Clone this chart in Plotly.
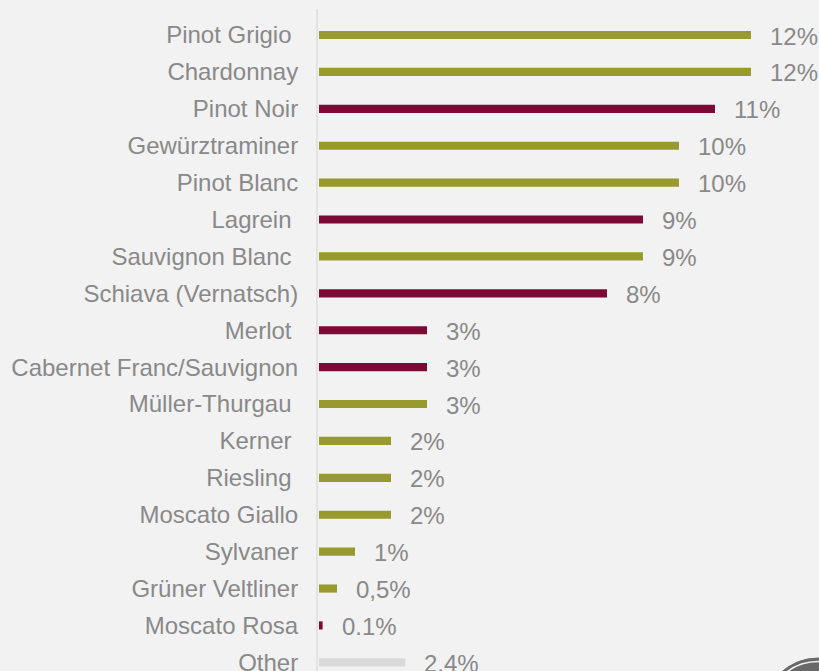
import plotly.graph_objects as go

NBSP = '\u00a0'

# grape varieties, top to bottom (trailing space as in the source labels)
varieties = ['Pinot Grigio' + NBSP, 'Chardonnay', 'Pinot Noir', 'Gewürztraminer',
             'Pinot Blanc', 'Lagrein' + NBSP, 'Sauvignon Blanc' + NBSP,
             'Schiava (Vernatsch)', 'Merlot' + NBSP, 'Cabernet Franc/Sauvignon',
             'Müller-Thurgau' + NBSP, 'Kerner' + NBSP, 'Riesling' + NBSP,
             'Moscato Giallo', 'Sylvaner', 'Grüner Veltliner', 'Moscato Rosa', 'Other']
shares = [12, 12, 11, 10, 10, 9, 9, 8, 3, 3, 3, 2, 2, 2, 1, 0.5, 0.1, 2.4]
share_labels = ['12%', '12%', '11%', '10%', '10%', '9%', '9%', '8%', '3%', '3%', '3%',
                '2%', '2%', '2%', '1%', '0,5%', '0.1%', '2.4%']
wine_type = ['white', 'white', 'red', 'white', 'white', 'red', 'white', 'red', 'red',
             'red', 'white', 'white', 'white', 'white', 'white', 'white', 'red', 'other']

WHITE_COLOUR = '#989a2e'
RED_COLOUR = '#7b0a36'
OTHER_COLOUR = '#d9d9d9'
TEXT_COLOUR = '#898989'
BG_COLOUR = '#f2f2f2'
LOGO_COLOUR = '#696969'
FONT = 'Liberation Sans, Arial, sans-serif'
FONT_SIZE = 24

colour_map = {'white': WHITE_COLOUR, 'red': RED_COLOUR, 'other': OTHER_COLOUR}
bar_colours = [colour_map[t] for t in wine_type]

fig = go.Figure()
fig.add_trace(go.Bar(
    x=shares,
    y=varieties,
    orientation='h',
    width=0.22,
    marker=dict(color=bar_colours, line=dict(width=0)),
    hoverinfo='none',
))

for v, s, lab in zip(varieties, shares, share_labels):
    fig.add_annotation(x=s, y=v, text=lab, showarrow=False, xanchor='left',
                       xshift=17, yshift=-1,
                       font=dict(family=FONT, size=FONT_SIZE, color=TEXT_COLOUR))

# logo circle peeking in at the bottom right corner
fig.add_shape(type='circle', xref='paper', yref='paper', x0=0.8882, x1=1.1078,
              y0=-0.1465, y1=0.0196, fillcolor=LOGO_COLOUR,
              line=dict(color=LOGO_COLOUR, width=1))
fig.add_shape(type='circle', xref='paper', yref='paper', x0=0.8952, x1=1.1008,
              y0=-0.1412, y1=0.0144, fillcolor=LOGO_COLOUR,
              line=dict(color='#f4f4f4', width=1.5))

fig.update_layout(
    width=819,
    height=671,
    margin=dict(l=318, r=0, t=9, b=0),
    paper_bgcolor=BG_COLOUR,
    plot_bgcolor=BG_COLOUR,
    showlegend=False,
    font=dict(family=FONT, size=FONT_SIZE, color=TEXT_COLOUR),
)
fig.update_xaxes(range=[-0.028, 13.89], visible=False, showgrid=False, zeroline=False,
                 fixedrange=True)
fig.update_yaxes(type='category', categoryorder='array', categoryarray=varieties,
                 range=[17.235, -0.705], showgrid=False, zeroline=False,
                 showline=True, linecolor='#e3e3e3', linewidth=2,
                 ticks='', ticklabelstandoff=13, automargin=False,
                 tickfont=dict(family=FONT, size=FONT_SIZE, color=TEXT_COLOUR))

fig.write_html('out.html', config={'displayModeBar': False},
               post_script="document.body.style.margin='0';"
                           "document.body.style.background='" + BG_COLOUR + "';")
